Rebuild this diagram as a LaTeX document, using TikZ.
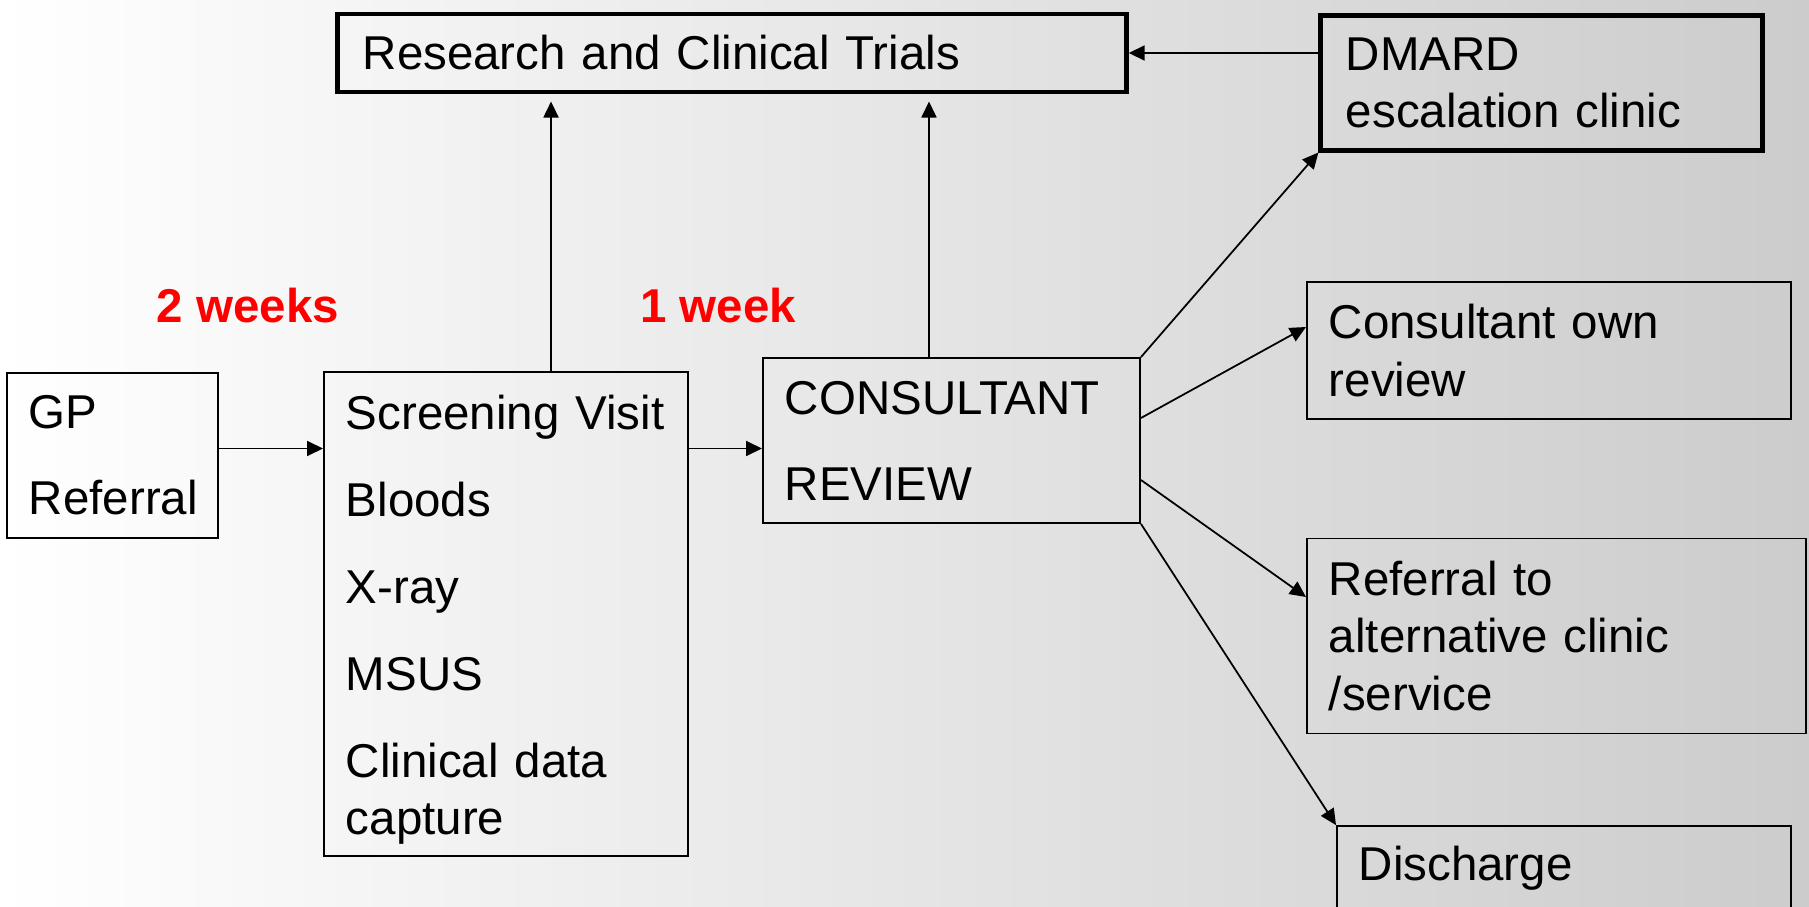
\documentclass[tikz,border=0pt]{standalone}
\usepackage{fontspec}
\setmainfont{Liberation Sans}
\usetikzlibrary{positioning, arrows.meta}

\begin{document}
\begin{tikzpicture}[
  x=0.01cm, y=-0.01cm,
  every node/.style={font=\fontsize{13.5}{16.3}\selectfont},
  box/.style={rectangle, draw=black, line width=0.5pt, align=left, inner xsep=0.22cm},
  bigbox/.style={box, line width=1.4pt, inner xsep=0.25cm},
  wait/.style={font=\fontsize{13.5}{16.3}\selectfont\bfseries, text=red},
  arr/.style={-{Triangle[length=0.16cm, width=0.15cm]}, line width=0.5pt}
]

% Background
\shade[left color=white, right color=black!20] (0,0) rectangle (1809,906);
\useasboundingbox (0,0) rectangle (1809,906);

% Main flow
\node[box, text width=1.67cm, minimum height=1.65cm] (gp) at (112.5,455.5) {GP\\[8.2pt]Referral};
\node[box, text width=3.20cm, minimum height=4.82cm] (screening) at (506,614)
  {\rule{0pt}{13.2pt}Screening~Visit\\[8.4pt]Bloods\\[8.4pt]X-ray\\[8.4pt]MSUS\\[8.4pt]Clinical data\\capture};
\node[box, text width=3.33cm, minimum height=1.65cm] (consultant) at (951.5,440.5) {CONSULTANT\\[8.2pt]REVIEW};

% Top boxes
\node[bigbox, text width=7.38cm, minimum height=0.78cm] (research) at (732,53) {Research and Clinical Trials};
\node[bigbox, text width=3.91cm, minimum height=1.34cm] (dmard) at (1541.5,83) {DMARD\\escalation clinic};

% Outcomes
\node[box, text width=4.40cm, minimum height=1.37cm] (own) at (1549,350.5) {Consultant own\\review};
\node[box, text width=4.55cm, minimum height=1.95cm] (referral) at (1556.5,636) {Referral to\\alternative clinic\\/service};
\node[box, text width=4.10cm, minimum height=0.84cm] (discharge) at (1564,868) {Discharge};

% Waiting times
\node[wait] (twoweeks) at (248,306) {2 weeks};
\node[wait] (oneweek) at (718,306) {1 week};

% Horizontal arrows
\coordinate (mid) at ([yshift=0.07cm]gp.east);
\draw[arr] (mid) -- (mid -| screening.west);
\draw[arr] (mid -| screening.east) -- (mid -| consultant.west);
\draw[arr] (dmard.west |- research.east) -- (research.east);

% Arrows up to research
\coordinate (up1) at ([xshift=0.45cm]screening.north);
\coordinate (up2) at ([xshift=-0.225cm]consultant.north);
\draw[arr, shorten >=0.07cm] (up1) -- (up1 |- research.south);
\draw[arr, shorten >=0.07cm] (up2) -- (up2 |- research.south);

% Fan out from review
\draw[arr] (consultant.north east) -- (dmard.south west);
\draw[arr] ([yshift=0.225cm]consultant.east) -- ([yshift=0.235cm]own.west);
\draw[arr] ([yshift=-0.395cm]consultant.east) -- ([yshift=0.39cm]referral.west);
\draw[arr] (consultant.south east) -- (discharge.north west);

\end{tikzpicture}
\end{document}
